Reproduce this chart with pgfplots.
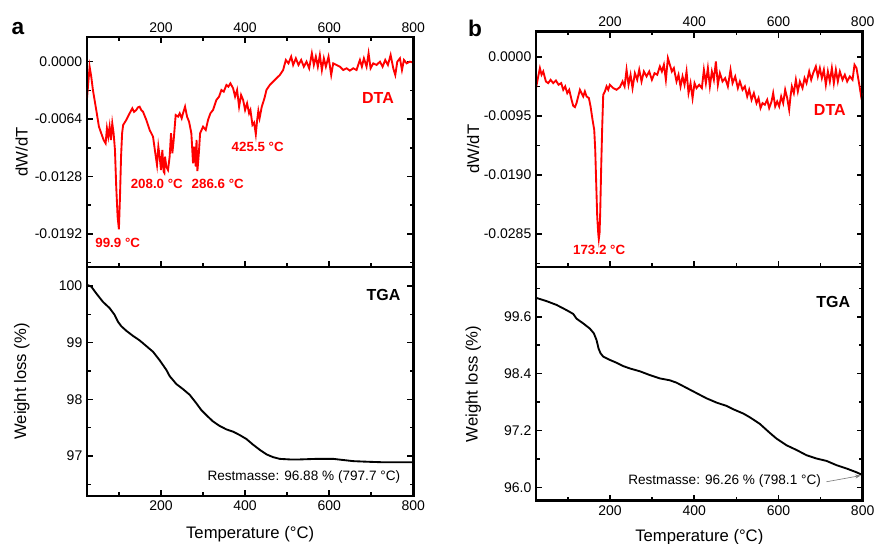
\documentclass[border=0pt]{standalone}
\usepackage{fontspec}
\setmainfont{Liberation Sans}
\usepackage{pgfplots}
\pgfplotsset{compat=1.18}
\usetikzlibrary{arrows.meta}

\pgfplotsset{
  tg/.style={
    scale only axis,
    separate axis lines,
    axis line style={line width=1.9pt, line cap=rect},
    every tick/.style={line width=1.2pt, black},
    major tick length=4.5pt,
    minor tick length=2.8pt,
    tick align=inside,
    scaled ticks=false,
    xmin=24, xmax=800,
    xtick={200,400,600,800},
    xticklabels={200,400,600,800},
    minor xtick={100,300,500,700},
    ytick pos=both,
    ticklabel style={font=\fontsize{10.5}{12}\selectfont},
    label style={font=\fontsize{12.5}{15}\selectfont},
    clip=true,
  },
  dta/.style={tg, xticklabel pos=top, xtick pos=both},
  tga/.style={tg, xtick pos=bottom},
}
\newcommand{\frameit}{\draw[line width=1.9pt] (rel axis cs:0,0) rectangle (rel axis cs:1,1);}

\begin{document}
\begin{tikzpicture}
\useasboundingbox (0,0) rectangle (655.5pt,407.25pt);

% ---------------- panel a, DTA ----------------
\begin{axis}[dta, at={(65.25pt,207pt)}, anchor=south west,
  width=244.7pt, height=172.5pt,
  ymin=-0.0229, ymax=0.00275,
  ytick={-0.0192,-0.0128,-0.0064,0},
  yticklabels={-0.0192,-0.0128,-0.0064,0.0000},
  minor ytick={-0.0224,-0.016,-0.0096,-0.0032},
  ylabel={dW/dT},
  ylabel style={at={(axis description cs:-0.2,0.5)}, anchor=center},
]
\addplot[red, line width=1.4pt] table {
24 -0.00409
27 -0.00242
30.2 -0.00056
34.1 -0.00167
38.1 -0.00316
46 -0.00539
52.4 -0.00725
57.9 -0.00799
63.5 -0.00873
68.3 -0.00911
71.4 -0.00743
74.6 -0.00836
77.8 -0.00725
81 -0.00873
84.1 -0.00688
87.3 -0.00799
90.5 -0.00985
93.5 -0.01394
96.8 -0.01728
99.9 -0.0187
102.5 -0.0150
105 -0.01059
107.5 -0.00799
110 -0.00706
117.5 -0.0065
125.4 -0.00576
131.8 -0.0052
136 -0.0056
141.3 -0.00539
145 -0.0051
149.2 -0.00502
153 -0.0054
157.2 -0.00558
165.1 -0.0065
173 -0.00762
181 -0.00836
186.5 -0.01022
190.5 -0.01152
193.7 -0.00948
196.8 -0.01059
200 -0.01208
203.2 -0.00985
206.4 -0.01227
208 -0.0124
209.5 -0.01059
212.7 -0.01171
216.7 -0.01208
220.6 -0.01059
223.8 -0.00799
227 -0.01022
230.2 -0.00873
234.9 -0.00595
240.5 -0.00613
244.5 -0.00576
249.2 -0.00632
252.4 -0.00576
257.2 -0.00502
261.9 -0.00613
266.7 -0.00669
272.2 -0.00799
276.2 -0.01134
279.4 -0.00948
282.6 -0.01171
284.5 -0.00873
286.6 -0.0122
290 -0.01022
293 -0.00799
300 -0.00725
306.4 -0.00762
311.9 -0.0065
317.5 -0.00576
323.8 -0.00539
331.8 -0.00427
338.1 -0.0039
343.7 -0.00316
349.2 -0.00335
355.6 -0.0026
360.3 -0.00279
365.1 -0.00242
371.5 -0.00297
376.2 -0.0039
381 -0.00316
385.7 -0.00502
390.5 -0.00372
395.3 -0.00427
400 -0.00539
404.8 -0.00465
409.5 -0.00576
412.7 -0.00539
417.5 -0.00706
421.5 -0.0068
425.5 -0.0081
428.5 -0.0066
431.5 -0.0055
434.5 -0.0063
439.7 -0.00502
446 -0.00409
450.8 -0.00316
458.8 -0.0026
466.7 -0.00223
474.6 -0.00186
482.6 -0.00149
490.5 -0.00093
496.9 0.00019
503.2 -0.00019
509.6 0.00056
514.3 -0.00037
520.7 0.00037
527 -0.00037
533.4 0.00019
539.7 -0.00056
546.1 0
552.4 -0.00074
558.8 0.00093
563.5 -0.00037
568.3 0.00056
573 -0.00056
577.8 0.00074
582.6 -0.00093
587.3 0.00037
592.1 -0.00056
598.4 0.00056
604.8 -0.00149
609.6 -0.00019
617.5 -0.00037
625.4 -0.00056
633.4 -0.00093
641.3 -0.00074
649.2 -0.001
657.2 -0.00074
665.1 -0.00093
673.1 0.00019
677.8 -0.00056
682.6 0.00037
688.9 -0.00056
693.7 0.00093
698.5 -0.00074
704.8 -0.00019
712.7 -0.00037
720.7 0
727 -0.00056
733.4 0.00019
739.7 -0.00037
746.1 0.00074
752.4 -0.00074
757.2 -0.00149
762 0
768.3 0.00037
773.1 -0.00093
777.8 0.00019
784.2 -0.00019
792.1 0
800 -0.00011
};
\node[red, font=\bfseries\fontsize{12}{14}\selectfont] at (axis cs:716,-0.00405) {DTA};
\node[red, font=\bfseries\fontsize{10}{12}\selectfont] at (axis cs:97,-0.0202) {99.9 °C};
\node[red, font=\bfseries\fontsize{10}{12}\selectfont] at (axis cs:190,-0.01364) {208.0 °C};
\node[red, font=\bfseries\fontsize{10}{12}\selectfont] at (axis cs:335,-0.01364) {286.6 °C};
\node[red, font=\bfseries\fontsize{10}{12}\selectfont] at (axis cs:430,-0.00951) {425.5 °C};
\frameit
\end{axis}

% ---------------- panel a, TGA ----------------
\begin{axis}[tga, at={(65.25pt,35.25pt)}, anchor=south west,
  width=244.7pt, height=171.75pt,
  ymin=96.295, ymax=100.335,
  ytick={97,98,99,100},
  yticklabels={97,98,99,100},
  minor ytick={96.5,97.5,98.5,99.5},
  ylabel={Weight loss (\%)},
  ylabel style={at={(axis description cs:-0.2,0.5)}, anchor=center},
  xlabel={Temperature (°C)},
  xlabel style={at={(axis description cs:0.5,0)}, anchor=center, yshift=-28.5pt},
]
\addplot[black, line width=1.4pt] table {
24 100.02
34.1 99.99
46 99.87
61.9 99.72
77.8 99.61
89.7 99.49
97.6 99.37
105.6 99.29
117.5 99.21
133.3 99.12
149.2 99.04
165.1 98.94
181 98.84
196.8 98.69
212.7 98.52
220.6 98.41
236.5 98.27
252.4 98.18
268.3 98.08
284.1 97.93
296 97.81
308 97.72
323.8 97.61
339.7 97.53
355.6 97.47
371.5 97.43
387.3 97.37
403.2 97.30
419.1 97.20
434.9 97.11
450.8 97.03
466.7 96.98
482.6 96.95
506.4 96.94
530.2 96.94
569.8 96.95
609.6 96.95
633.4 96.93
657.2 96.91
688.9 96.90
728.6 96.89
768.3 96.89
800 96.89
};
\node[font=\bfseries\fontsize{12}{14}\selectfont] at (axis cs:729,99.84) {TGA};
\node[anchor=east, font=\fontsize{10.2}{12}\selectfont] at (axis cs:780,96.63) {Restmasse: 96.88 \% (797.7 °C)};
\frameit
\end{axis}

% ---------------- panel b, DTA ----------------
\begin{axis}[dta, at={(402pt,207pt)}, anchor=south west,
  width=245pt, height=176.5pt,
  ymin=-0.0338, ymax=0.0041,
  ytick={-0.0285,-0.019,-0.0095,0},
  yticklabels={-0.0285,-0.0190,-0.0095,0.0000},
  minor ytick={-0.03325,-0.02375,-0.01425,-0.00475},
  ylabel={dW/dT},
  ylabel style={at={(axis description cs:-0.192,0.5)}, anchor=center},
]
\addplot[red, line width=1.4pt] table {
24 -0.00499
29.3 -0.00311
33.3 -0.00177
37.2 -0.00284
41.2 -0.00231
47.5 -0.00392
53 -0.00419
58.6 -0.00365
64.9 -0.00419
71.3 -0.00376
77.6 -0.00445
83.9 -0.00419
88.7 -0.00526
93.4 -0.00472
98.2 -0.0058
102.9 -0.00526
108.5 -0.00687
112.4 -0.00784
116.4 -0.00805
120.3 -0.00741
124.3 -0.00633
128.3 -0.00526
132.2 -0.0058
136.2 -0.00633
140.1 -0.00553
144.1 -0.00633
149.6 -0.0066
153.6 -0.00794
158.3 -0.01009
162.3 -0.0117
164.7 -0.01492
167 -0.02029
169.4 -0.02565
171.8 -0.02834
173.2 -0.0293
175 -0.0283
176.5 -0.0251
178.9 -0.0176
181.3 -0.01116
183.7 -0.00606
187.6 -0.00553
191.6 -0.00472
195.5 -0.00526
199.5 -0.00445
207.4 -0.00499
215.3 -0.00526
223.3 -0.00483
229.6 -0.00392
234.4 -0.00472
239.1 -0.00204
243.8 -0.00445
248.6 -0.00284
253.3 -0.00499
258.9 -0.00258
264.4 -0.00365
269.2 -0.00204
274.7 -0.00392
280.3 -0.00231
286.6 -0.00311
292.9 -0.00231
299.3 -0.00365
305.6 -0.00258
311.9 -0.00284
318.3 -0.0015
323 -0.00231
327.8 -0.00123
332.5 -0.00365
337.3 -0.00016
342 -0.00123
346.7 -0.00231
351.5 -0.00177
357.8 -0.00392
362.6 -0.00284
367.3 -0.00472
372.1 -0.00311
376.8 -0.00445
381.6 -0.00231
386.3 -0.0058
391.1 -0.00419
395.9 -0.0066
400.6 -0.00419
405.3 -0.00499
411.7 -0.00445
418 -0.00499
422.8 -0.00204
427.5 -0.00419
432.3 -0.00177
437 -0.00472
441.8 -0.00231
446.5 -0.00365
451.3 -0.0007
456 -0.00445
460.8 -0.00258
467.1 -0.00392
473.4 -0.00338
479.8 -0.00472
486.1 -0.00204
490.9 -0.00419
497.2 -0.00311
503.5 -0.00499
508.3 -0.00392
514.6 -0.00526
520.1 -0.00472
525.7 -0.00633
530.4 -0.00526
536 -0.00687
541.5 -0.0058
547.8 -0.00741
552.6 -0.0066
557.4 -0.00821
562.1 -0.00741
567.6 -0.00767
573.2 -0.00687
577.9 -0.00821
583.5 -0.00714
587.4 -0.0058
592.2 -0.00794
596.9 -0.00714
601.7 -0.00794
606.4 -0.00633
611.2 -0.00741
615.9 -0.00526
620.7 -0.0066
625.4 -0.00848
628.6 -0.00633
631.8 -0.00472
636.5 -0.0058
641.3 -0.00365
646 -0.00553
650.8 -0.00392
657.1 -0.00499
661.9 -0.00338
666.6 -0.00419
672.9 -0.00231
677.7 -0.00365
682.4 -0.00258
688.8 -0.0015
693.5 -0.00311
698.3 -0.00177
703 -0.00338
707.8 -0.00204
712.5 -0.00445
717.3 -0.00231
722 -0.00392
726.8 -0.00177
731.5 -0.00419
736.3 -0.00204
741 -0.00392
745.8 -0.00231
752.1 -0.00365
757.6 -0.00284
763.2 -0.00392
769.5 -0.00311
775.9 -0.00365
780.6 -0.00123
785.4 -0.00177
789.3 -0.00338
793.3 -0.00499
796.4 -0.00633
800 -0.0058
};
\node[red, font=\bfseries\fontsize{12}{14}\selectfont] at (axis cs:722,-0.00849) {DTA};
\node[red, font=\bfseries\fontsize{10}{12}\selectfont] at (axis cs:174,-0.0310) {173.2 °C};
\frameit
\end{axis}

% ---------------- panel b, TGA ----------------
\begin{axis}[tga, at={(402pt,31.7pt)}, anchor=south west,
  width=245pt, height=175.3pt,
  ymin=95.72, ymax=100.65,
  ytick={96,97.2,98.4,99.6},
  yticklabels={96.0,97.2,98.4,99.6},
  minor ytick={96.6,97.8,99.0,100.2},
  ylabel={Weight loss (\%)},
  ylabel style={at={(axis description cs:-0.192,0.5)}, anchor=center},
  xlabel={Temperature (°C)},
  xlabel style={at={(axis description cs:0.5,0)}, anchor=center, yshift=-27pt},
]
\addplot[black, line width=1.4pt] table {
24 100.0
49.1 99.93
72.8 99.85
96.6 99.74
112.4 99.66
120.3 99.56
136.2 99.46
152 99.35
161.5 99.25
167.8 99.11
172.6 98.93
177.3 98.83
183.7 98.76
199.5 98.69
215.3 98.63
231.2 98.56
247 98.51
270.8 98.45
294.5 98.37
318.3 98.30
342 98.26
357.8 98.21
381.6 98.10
405.3 97.99
429.1 97.88
452.9 97.79
476.6 97.72
492.4 97.65
516.2 97.56
532 97.48
555.8 97.34
579.5 97.15
595.4 97.03
619.1 96.89
642.9 96.79
666.6 96.68
690.4 96.61
714.1 96.56
737.9 96.47
761.6 96.40
785.4 96.32
800 96.26
};
\node[font=\bfseries\fontsize{12}{14}\selectfont] at (axis cs:730,99.92) {TGA};
\node[anchor=east, font=\fontsize{10.2}{12}\selectfont] at (axis cs:712,96.14) {Restmasse: 96.26 \% (798.1 °C)};
\draw[gray, line width=0.5pt, -{Stealth[length=4pt]}] (axis cs:714,96.12) -- (axis cs:795,96.25);
\frameit
\end{axis}

\node[font=\bfseries\fontsize{17}{20}\selectfont] at (13.5pt,385.5pt) {a};
\node[font=\bfseries\fontsize{17}{20}\selectfont] at (356.25pt,386.25pt) {b};
\end{tikzpicture}
\end{document}
